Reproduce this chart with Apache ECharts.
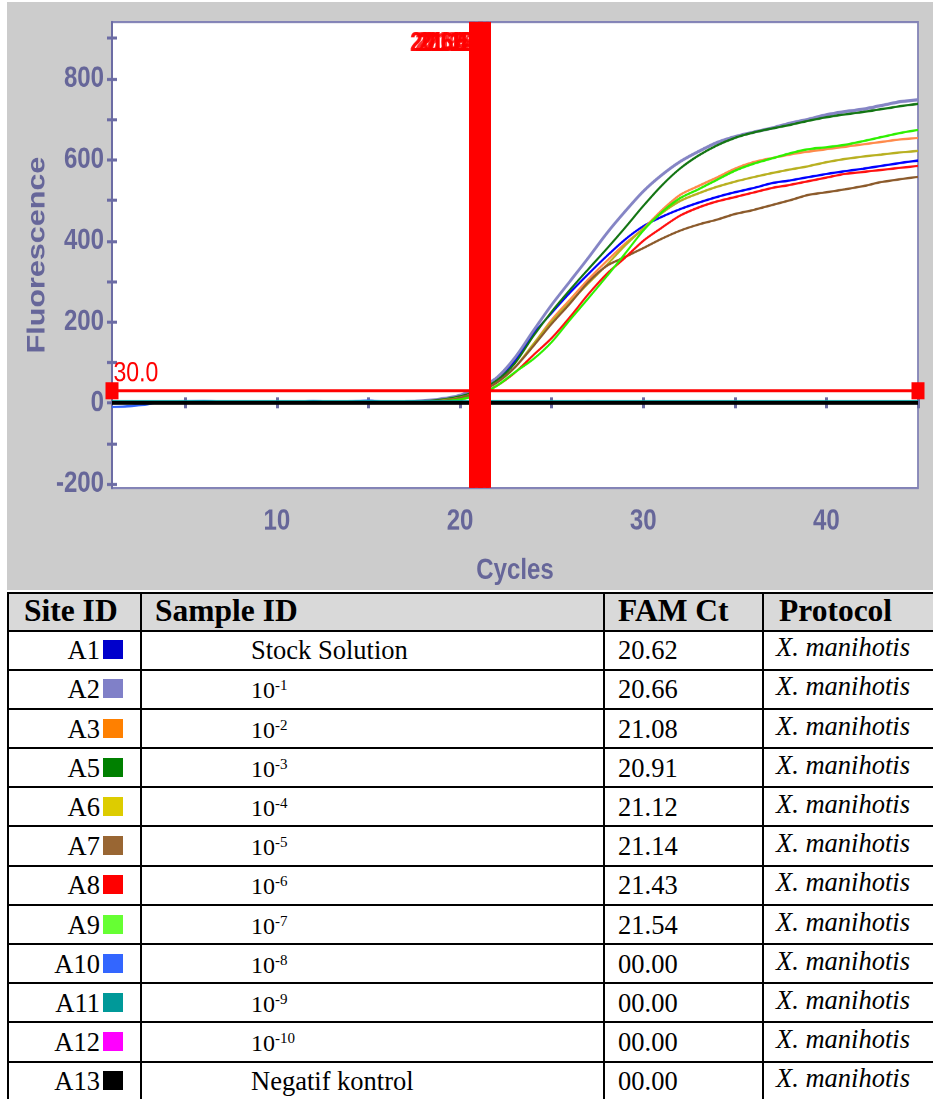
<!DOCTYPE html>
<html>
<head>
<meta charset="utf-8">
<title>FAM amplification - X. manihotis</title>
<script src="https://cdn.jsdelivr.net/npm/echarts@6.0.0/dist/echarts.min.js"></script>
<style>
  html, body { margin: 0; padding: 0; background: #fff; }
  body { width: 933px; height: 1099px; position: relative; overflow: hidden; }
  /* the source image is stretched vertically, so the chart is drawn short and scaled up */
  #frame { position: absolute; left: 7px; top: 2px; width: 926px; height: 588px; background: #cccccc; overflow: hidden; }
  #chart { width: 926px; height: 482px; transform: scaleY(1.2199); transform-origin: 0 0; }
  #results { position: absolute; left: 7px; top: 592px; border-collapse: collapse; table-layout: fixed; width: 928px;
    font-family: 'Liberation Serif', 'Times New Roman', serif; color: #000; }
  #results th, #results td { border: 2.5px solid #000; padding: 0; vertical-align: bottom; line-height: 1; white-space: nowrap; overflow: hidden; }
  #results tr.head { height: 37.5px; }
  #results tr { height: 39.2px; }
  #results th { background: #d9d9d9; font-size: 31.5px; font-weight: bold; text-align: left; padding-bottom: 3px; }
  #results td { font-size: 26.5px; padding-bottom: 5px; }
  #results .site { text-align: right; padding-right: 17px; }
  #results .sw { display: inline-block; width: 20px; height: 19px; margin-left: 3px; }
  #results .sample { padding-left: 109px; }
  #results .sample .exp { font-size: 24px; }
  #results .sample sup { font-size: 15px; vertical-align: 8px; line-height: 0; }
  #results .ct { padding-left: 13px; }
  #results .proto { padding-left: 12px; font-style: italic; padding-bottom: 8px; }
</style>
</head>
<body>
<div id="frame"><div id="chart"></div></div>
<table id="results">
  <colgroup><col style="width:133px"><col style="width:463px"><col style="width:159px"><col style="width:173px"></colgroup>
  <tbody id="rows">
    <tr class="head">
      <th style="padding-left:15px">Site ID</th>
      <th style="padding-left:13px">Sample ID</th>
      <th style="padding-left:13px">FAM Ct</th>
      <th style="padding-left:15px">Protocol</th>
    </tr>
  </tbody>
</table>
<script>
const cycles = [1, 2, 3, 4, 5, 6, 7, 8, 9, 10, 11, 12, 13, 14, 15, 16, 17, 18, 19, 20, 21, 22, 23,
  24, 25, 26, 27, 28, 29, 30, 31, 32, 33, 34, 35, 36, 37, 38, 39, 40, 41, 42, 43, 44, 45]

const siteIds = ['A1', 'A2', 'A3', 'A5', 'A6', 'A7', 'A8', 'A9', 'A10', 'A11', 'A12', 'A13']
const sampleIds = ['Stock Solution', '10^-1', '10^-2', '10^-3', '10^-4', '10^-5', '10^-6', '10^-7',
  '10^-8', '10^-9', '10^-10', 'Negatif kontrol']
const famCt = [20.62, 20.66, 21.08, 20.91, 21.12, 21.14, 21.43, 21.54, 0, 0, 0, 0]
const protocol = 'X. manihotis'
const siteColors = ['#0000cc', '#8080c8', '#ff8000', '#008000', '#ddcc00', '#996633', '#ff0000', '#66ff33',
  '#3366ff', '#009999', '#ff00ff', '#000000']
const lineColors = ['#0000ff', '#8585c5', '#ff8a4a', '#137513', '#b8b020', '#8b5a2b', '#ff1010', '#2ef000',
  '#3366ff', '#009999', '#ff00ff', '#000000']
const lineWidths = [1.9, 2.6, 1.9, 1.9, 1.9, 1.9, 1.9, 1.9, 1.9, 1.9, 1.9, 3.3]

// fluorescence per cycle
const fluorA1 = [0, 1, 0, 2, 1, 0, 0, 1, 0, 0, 1, 0, 0, 1, 1, 2, 3, 5, 9, 18, 34, 60, 105, 170, 222, 272, 318,
  362, 403, 436, 459, 478, 494, 508, 520, 530, 542, 549, 557, 565, 572, 578, 585, 592, 598]
const fluorA2 = [1, 0, 1, 0, 0, 1, 2, 0, 1, 0, 0, 1, 0, 1, 1, 2, 3, 5, 10, 19, 36, 62, 112, 178, 242, 300, 358,
  418, 472, 522, 562, 595, 620, 642, 657, 668, 678, 690, 700, 711, 719, 725, 734, 743, 748]
const fluorA3 = [0, 0, 1, 0, 3, 1, 0, 0, 1, 0, 0, 0, 1, 0, 1, 1, 2, 3, 6, 13, 28, 50, 88, 145, 205, 255, 305,
  350, 393, 430, 475, 513, 535, 556, 578, 594, 604, 613, 620, 626, 632, 638, 644, 650, 654]
const fluorA5 = [0, 1, 0, 0, 1, 0, 1, 0, 0, 1, 0, 1, 0, 0, 1, 2, 3, 4, 8, 16, 31, 55, 98, 165, 225, 279, 330,
  380, 432, 486, 536, 578, 610, 635, 654, 667, 677, 686, 696, 705, 712, 718, 725, 732, 738]
const fluorA6 = [0, 0, 0, 3, 2, 0, 1, 0, 0, 1, 0, 0, 0, 1, 1, 1, 2, 3, 6, 13, 27, 50, 88, 145, 200, 248, 295,
  340, 388, 430, 468, 498, 517, 533, 546, 557, 567, 576, 584, 594, 602, 608, 613, 618, 622]
const fluorA7 = [0, 0, 1, 0, 0, 2, 0, 0, 1, 0, 0, 1, 0, 0, 1, 1, 2, 3, 5, 12, 27, 50, 88, 140, 195, 245, 298,
  338, 360, 382, 405, 425, 440, 452, 466, 476, 488, 500, 513, 520, 527, 535, 545, 552, 558]
const fluorA8 = [0, 0, 0, 1, 0, 0, 1, 0, 0, 0, 1, 0, 0, 1, 0, 1, 1, 2, 4, 9, 20, 42, 75, 118, 160, 212, 268,
  318, 358, 400, 432, 462, 482, 497, 508, 519, 530, 538, 547, 556, 565, 570, 575, 580, 585]
const fluorA9 = [0, 0, 0, 0, 1, 0, 0, 1, 0, 0, 0, 1, 0, 0, 1, 1, 1, 2, 4, 9, 19, 42, 76, 108, 150, 205, 258,
  312, 368, 425, 470, 505, 527, 550, 573, 590, 603, 616, 626, 631, 637, 646, 656, 666, 674]
const fluorA10 = [-10, -8, -3, 2, 4, 5, 3, 1, 0, 0, 1, 5, 2, 4, 6, 2, 1, 0, 1, 0, 0, 0, 1, 0, 0, 1, 4, 1, 0,
  0, 1, 0, 0, 1, 0, 0, 1, 0, 0, 1, 0, 0, 1, 0, 0]
const fluorA11 = [4, 4, 4, 4, 4, 4, 4, 4, 4, 4, 4, 4, 4, 4, 4, 4, 4, 4, 4, 4, 4, 4, 4, 4, 4, 4, 4, 4, 4, 4,
  4, 4, 4, 4, 4, 4, 4, 4, 4, 4, 4, 4, 4, 4, 4]
const fluorA12 = [1, 1, 1, 1, 1, 1, 1, 1, 1, 1, 1, 1, 1, 1, 1, 1, 1, 1, 1, 1, 1, 1, 1, 1, 1, 1, 1, 1, 1, 1,
  1, 1, 1, 1, 1, 1, 1, 1, 1, 1, 1, 1, 1, 1, 1]
const fluorA13 = [0, 0, 0, 0, 0, 0, 0, 0, 0, 0, 0, 0, 0, 0, 0, 0, 0, 0, 0, 0, 0, 0, 0, 0, 0, 0, 0, 0, 0, 0,
  0, 0, 0, 0, 0, 0, 0, 0, 0, 0, 0, 0, 0, 0, 0]
const curves = [fluorA1, fluorA2, fluorA3, fluorA5, fluorA6, fluorA7, fluorA8, fluorA9, fluorA10, fluorA11, fluorA12, fluorA13]

const threshold = 30
const ctLabelLevel = 887
const xTicks = [5, 10, 15, 20, 25, 30, 35, 40, 45]
const xLabels = [10, 20, 30, 40]
const yTicks = [-200, -100, 0, 100, 200, 300, 400, 500, 600, 700, 800, 900]
const yLabels = [-200, 0, 200, 400, 600, 800]

const axisColor = '#6c6ca4'
const textColor = '#666699'
const sans = "'Liberation Sans', Arial, sans-serif"

// table below the chart
const tbody = document.getElementById('rows')
siteIds.forEach((id, i) => {
  const tr = document.createElement('tr')
  const s = sampleIds[i]
  const sample = s.indexOf('^') > 0
    ? '<span class="exp">' + s.split('^')[0] + '</span><sup>' + s.split('^')[1] + '</sup>'
    : s
  const ct = famCt[i] > 0 ? famCt[i].toFixed(2) : '00.00'
  tr.innerHTML = '<td class="site">' + id + '<span class="sw" style="background:' + siteColors[i] + '"></span></td>' +
    '<td class="sample">' + sample + '</td>' +
    '<td class="ct">' + ct + '</td>' +
    '<td class="proto">' + protocol + '</td>'
  tbody.appendChild(tr)
})

const chart = echarts.init(document.getElementById('chart'), null, { devicePixelRatio: 2 })

const xBase = {
  type: 'value',
  min: 1,
  max: 45,
  position: 'bottom',
  splitLine: { show: false }
}
const yBase = {
  type: 'value',
  min: -210,
  max: 940,
  position: 'left',
  splitLine: { show: false }
}

const curveSeries = siteIds.map((id, i) => ({
  name: id,
  type: 'line',
  data: cycles.map((c, k) => [c, curves[i][k]]),
  showSymbol: false,
  smooth: 0.3,
  lineStyle: { color: lineColors[i], width: lineWidths[i] },
  itemStyle: { color: lineColors[i] },
  z: 2
}))

const withCt = famCt.filter(v => v > 0)

const option = {
  animation: false,
  backgroundColor: 'transparent',
  grid: {
    left: 105,
    right: 15,
    top: 16.4,
    bottom: 83.6,
    containLabel: false,
    outerBoundsMode: 'none',
    show: true,
    backgroundColor: '#ffffff',
    borderColor: '#8383b6',
    borderWidth: 1.8
  },
  xAxis: [
    Object.assign({}, xBase, {
      name: 'Cycles',
      nameLocation: 'middle',
      nameGap: 56,
      nameMoveOverlap: false,
      nameTextStyle: { color: textColor, fontFamily: sans, fontWeight: 'bold', fontSize: 24 },
      axisLine: { lineStyle: { color: axisColor, width: 1.7 } },
      axisTick: { length: 4.5, customValues: xTicks, lineStyle: { color: axisColor, width: 3 } },
      axisLabel: { customValues: xLabels, margin: 15.5, color: textColor, fontFamily: sans, fontWeight: 'bold', fontSize: 24 }
    }),
    Object.assign({}, xBase, {
      axisLine: { show: false },
      axisTick: { inside: true, length: 4.5, customValues: xTicks, lineStyle: { color: axisColor, width: 3 } },
      axisLabel: { show: false }
    })
  ],
  yAxis: [
    Object.assign({}, yBase, {
      name: 'Fluorescence',
      nameLocation: 'middle',
      nameGap: 62,
      nameMoveOverlap: false,
      nameTextStyle: { color: textColor, fontFamily: sans, fontWeight: 'bold', fontSize: 25 },
      axisLine: { lineStyle: { color: axisColor, width: 2 } },
      axisTick: { length: 5, customValues: yTicks, lineStyle: { color: axisColor, width: 2.5 } },
      axisLabel: { customValues: yLabels, margin: 8, color: textColor, fontFamily: sans, fontWeight: 'bold', fontSize: 24 }
    }),
    Object.assign({}, yBase, {
      axisLine: { show: false },
      axisTick: { inside: true, length: 5, customValues: yTicks, lineStyle: { color: axisColor, width: 2.5 } },
      axisLabel: { show: false }
    })
  ],
  series: curveSeries.concat([
    {
      name: 'Ct',
      type: 'scatter',
      data: withCt.map(v => [v, ctLabelLevel]),
      symbolSize: 1,
      itemStyle: { color: 'rgba(0,0,0,0)' },
      label: {
        show: true,
        position: 'left',
        distance: 6,
        formatter: p => p.value[0].toFixed(2),
        color: '#ff0000',
        fontFamily: sans,
        fontWeight: 'bold',
        fontSize: 22
      },
      z: 3
    },
    {
      name: 'Threshold',
      type: 'line',
      data: [
        { value: [1, threshold], label: { show: true } },
        [45, threshold]
      ],
      clip: false,
      symbol: 'rect',
      symbolSize: [13, 14],
      showSymbol: true,
      lineStyle: { color: '#ff0000', width: 2.4 },
      itemStyle: { color: '#ff0000' },
      label: {
        show: false,
        position: [8, -18.5],
        formatter: p => p.value[1].toFixed(1),
        color: '#ff0000',
        fontFamily: sans,
        fontSize: 23
      },
      markLine: {
        silent: true,
        symbol: ['none', 'none'],
        label: { show: false },
        lineStyle: { color: '#ff0000', width: 5, type: 'solid' },
        data: withCt.map(v => ({ xAxis: v }))
      },
      z: 5
    }
  ])
}

chart.setOption(option)
</script>
</body>
</html>
